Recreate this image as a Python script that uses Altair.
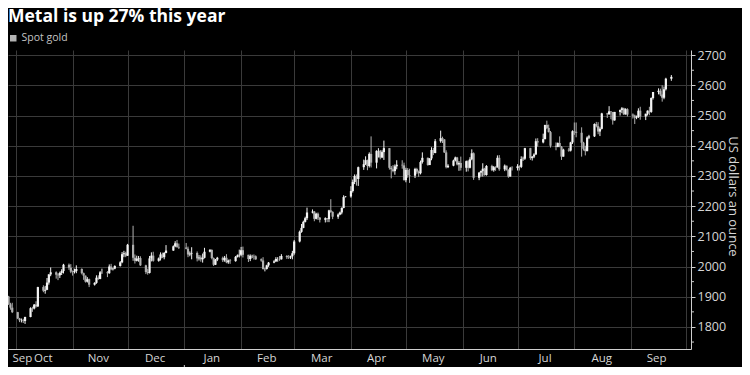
import altair as alt
import pandas as pd

TITLE = "Metal is up 27% this year"
SERIES = "Spot gold"
Y_TITLE = "US dollars an ounce"

FIRST_OPEN = 1925
HOLIDAYS = ["2023-12-25", "2024-01-01"]
FIRST_DAY = "2023-09-25"
LAST_DAY = "2024-09-23"

CLOSE = {
    "2023-09": [1915, 1901, 1875, 1864, 1849],
    "2023-10": [1828, 1822, 1822, 1820, 1833, 1862, 1861, 1874, 1868, 1932, 1920, 1923, 1947, 1974, 1981, 1973, 1971, 1979, 1985, 2006, 1996, 1983],
    "2023-11": [1982, 1985, 1992, 1978, 1970, 1950, 1958, 1940, 1946, 1963, 1959, 1981, 1981, 1978, 2000, 1991, 1993, 2002, 2014, 2041, 2044, 2036],
    "2023-12": [2072, 2029, 2019, 2026, 2028, 2004, 1982, 1979, 2027, 2036, 2019, 2027, 2040, 2031, 2045, 2053, 2067, 2077, 2065, 2063],
    "2024-01": [2059, 2040, 2043, 2045, 2027, 2030, 2024, 2029, 2049, 2055, 2028, 2006, 2023, 2029, 2021, 2029, 2014, 2020, 2018, 2032, 2037, 2039],
    "2024-02": [2054, 2039, 2025, 2035, 2035, 2034, 2024, 2020, 1992, 1992, 2004, 2013, 2017, 2025, 2025, 2024, 2035, 2031, 2030, 2034, 2044],
    "2024-03": [2083, 2115, 2128, 2148, 2160, 2179, 2182, 2158, 2175, 2162, 2155, 2160, 2157, 2186, 2181, 2165, 2172, 2179, 2194, 2230, 2232],
    "2024-04": [2250, 2280, 2300, 2290, 2329, 2339, 2352, 2333, 2373, 2344, 2383, 2383, 2361, 2379, 2392, 2327, 2322, 2316, 2332, 2337, 2335, 2286],
    "2024-05": [2320, 2303, 2301, 2323, 2314, 2309, 2346, 2360, 2336, 2358, 2386, 2376, 2415, 2425, 2421, 2378, 2329, 2334, 2351, 2361, 2338, 2343, 2327],
    "2024-06": [2349, 2327, 2355, 2375, 2294, 2311, 2316, 2324, 2303, 2333, 2319, 2329, 2328, 2360, 2322, 2334, 2320, 2298, 2327, 2326],
    "2024-07": [2332, 2330, 2356, 2357, 2392, 2359, 2364, 2371, 2415, 2411, 2422, 2469, 2459, 2445, 2400, 2396, 2409, 2397, 2364, 2387, 2384, 2411, 2448],
    "2024-08": [2446, 2443, 2410, 2390, 2382, 2427, 2431, 2472, 2465, 2447, 2456, 2507, 2504, 2514, 2512, 2484, 2512, 2518, 2524, 2504, 2521, 2503],
    "2024-09": [2500, 2493, 2495, 2516, 2497, 2506, 2516, 2512, 2558, 2578, 2582, 2570, 2559, 2587, 2622, 2628],
}
HIGH = {
    "2023-09": [1928, 1917, 1903, 1880, 1880],
    "2023-10": [1850, 1830, 1828, 1827, 1834, 1865, 1867, 1876, 1885, 1933, 1938, 1936, 1962, 1975, 1997, 1984, 1978, 1983, 1991, 2009, 2010, 2008],
    "2023-11": [1987, 1993, 2004, 1994, 1980, 1970, 1965, 1960, 1948, 1971, 1971, 1985, 1993, 1985, 2007, 2009, 1996, 2004, 2018, 2048, 2052, 2049],
    "2023-12": [2075, 2135, 2040, 2036, 2035, 2034, 2006, 1993, 2035, 2047, 2049, 2030, 2047, 2046, 2048, 2071, 2070, 2084, 2088, 2076],
    "2024-01": [2078, 2066, 2050, 2064, 2050, 2038, 2037, 2043, 2062, 2058, 2057, 2030, 2025, 2032, 2033, 2035, 2041, 2023, 2025, 2035, 2040, 2056],
    "2024-02": [2065, 2066, 2039, 2040, 2039, 2040, 2037, 2027, 2031, 1995, 2006, 2015, 2021, 2031, 2031, 2035, 2041, 2038, 2038, 2036, 2052],
    "2024-03": [2088, 2119, 2141, 2152, 2165, 2195, 2189, 2184, 2178, 2179, 2164, 2163, 2160, 2188, 2223, 2183, 2176, 2182, 2196, 2236, 2233],
    "2024-04": [2266, 2288, 2305, 2305, 2331, 2354, 2365, 2354, 2378, 2431, 2385, 2392, 2386, 2385, 2417, 2392, 2333, 2336, 2338, 2352, 2352, 2344],
    "2024-05": [2327, 2326, 2324, 2327, 2327, 2318, 2351, 2378, 2361, 2359, 2395, 2393, 2422, 2450, 2430, 2422, 2385, 2339, 2354, 2364, 2363, 2349, 2364],
    "2024-06": [2351, 2353, 2362, 2388, 2378, 2313, 2318, 2342, 2327, 2336, 2337, 2333, 2332, 2368, 2369, 2338, 2334, 2322, 2330, 2332],
    "2024-07": [2339, 2335, 2365, 2364, 2393, 2393, 2366, 2375, 2424, 2425, 2440, 2469, 2483, 2470, 2449, 2411, 2411, 2431, 2399, 2390, 2393, 2413, 2451],
    "2024-08": [2477, 2477, 2461, 2413, 2400, 2431, 2436, 2474, 2479, 2478, 2461, 2509, 2509, 2531, 2513, 2510, 2512, 2520, 2528, 2526, 2524, 2524],
    "2024-09": [2507, 2503, 2500, 2524, 2529, 2506, 2517, 2529, 2560, 2578, 2590, 2589, 2600, 2596, 2625, 2634],
}
LOW = {
    "2023-09": [1911, 1899, 1873, 1857, 1846],
    "2023-10": [1826, 1816, 1815, 1813, 1810, 1832, 1850, 1858, 1864, 1866, 1915, 1910, 1922, 1940, 1968, 1960, 1955, 1962, 1972, 1977, 1989, 1978],
    "2023-11": [1970, 1977, 1978, 1974, 1956, 1947, 1947, 1932, 1937, 1943, 1956, 1958, 1976, 1965, 1976, 1988, 1987, 1991, 2000, 2011, 2031, 2031],
    "2023-12": [2035, 2019, 2010, 2017, 2016, 2002, 1975, 1973, 1977, 2017, 2016, 2016, 2020, 2028, 2024, 2044, 2052, 2064, 2062, 2058],
    "2024-01": [2057, 2031, 2034, 2024, 2017, 2020, 2016, 2013, 2027, 2047, 2024, 2002, 2005, 2018, 2015, 2016, 2011, 2009, 2009, 2016, 2030, 2030],
    "2024-02": [2034, 2030, 2015, 2018, 2028, 2023, 2022, 2016, 1990, 1984, 1990, 1999, 2011, 2015, 2016, 2019, 2023, 2025, 2025, 2025, 2024],
    "2024-03": [2039, 2080, 2112, 2127, 2146, 2154, 2176, 2150, 2156, 2154, 2146, 2146, 2147, 2147, 2178, 2157, 2158, 2170, 2173, 2193, 2229],
    "2024-04": [2228, 2245, 2273, 2268, 2267, 2320, 2336, 2319, 2328, 2328, 2325, 2361, 2355, 2359, 2353, 2321, 2292, 2312, 2304, 2322, 2324, 2285],
    "2024-05": [2279, 2294, 2277, 2293, 2307, 2297, 2305, 2341, 2334, 2337, 2352, 2369, 2375, 2410, 2409, 2376, 2325, 2326, 2332, 2348, 2335, 2317, 2318],
    "2024-06": [2314, 2315, 2325, 2352, 2287, 2286, 2298, 2298, 2301, 2301, 2316, 2314, 2317, 2328, 2317, 2316, 2318, 2294, 2298, 2318],
    "2024-07": [2318, 2318, 2326, 2350, 2353, 2353, 2351, 2359, 2370, 2397, 2408, 2421, 2455, 2444, 2394, 2385, 2395, 2395, 2353, 2364, 2380, 2381, 2406],
    "2024-08": [2436, 2428, 2364, 2384, 2368, 2382, 2422, 2429, 2461, 2438, 2432, 2454, 2492, 2503, 2488, 2470, 2483, 2500, 2508, 2502, 2503, 2497],
    "2024-09": [2490, 2472, 2488, 2492, 2486, 2485, 2500, 2501, 2509, 2553, 2570, 2564, 2546, 2554, 2583, 2615],
}

MONTH_LABELS = ["Sep", "Oct", "Nov", "Dec", "Jan", "Feb", "Mar", "Apr", "May", "Jun", "Jul", "Aug", "Sep"]
MONTH_LABEL_DATES = ["2023-10-04T12:00:00Z", "2023-10-16", "2023-11-15", "2023-12-16", "2024-01-16", "2024-02-15",
                     "2024-03-16", "2024-04-15", "2024-05-16", "2024-06-15", "2024-07-16", "2024-08-16", "2024-09-15"]
YEAR_LABELS = ["2023", "2024"]
YEAR_LABEL_DATES = ["2023-11-12", "2024-05-17"]
YEAR_BREAK = ["2024-01-01"]
Y_TICKS = [1800, 1900, 2000, 2100, 2200, 2300, 2400, 2500, 2600, 2700]
Y_MINOR = [1750, 1850, 1950, 2050, 2150, 2250, 2350, 2450, 2550, 2650]

# ---- build table (open of each session = previous session's close) ----
days = [d for d in pd.bdate_range(FIRST_DAY, LAST_DAY).strftime("%Y-%m-%d") if d not in HOLIDAYS]
rows = []
prev = FIRST_OPEN
for m in CLOSE:
    mdays = [d for d in days if d.startswith(m)]
    assert len(mdays) == len(CLOSE[m]) == len(HIGH[m]) == len(LOW[m]), (m, len(mdays), len(CLOSE[m]), len(HIGH[m]), len(LOW[m]))
    for d, c, h, l in zip(mdays, CLOSE[m], HIGH[m], LOW[m]):
        rows.append({"date": d, "open": prev, "close": c, "high": h, "low": l})
        prev = c
df = pd.DataFrame(rows)

W, H = 683, 299
BG = "#000000"
GRID = "#3a3a3a"
AXIS = "#cfcfcf"
TXT = "#d6d6d6"
UP = "#f4f4f4"
DOWN = "#b0b0b0"
FONT = "Open Sans"

d0 = pd.Timestamp("2023-09-29 10:00", tz="UTC").value // 10**6
d1 = pd.Timestamp("2024-10-01 00:00", tz="UTC").value // 10**6
xscale = alt.Scale(type="utc", domain=[d0, d1])
yscale = alt.Scale(domain=[1727, 2717], zero=False, nice=False)

xaxis = alt.Axis(grid=True, gridColor=GRID, gridWidth=1, labels=False, ticks=False,
                 domainColor=AXIS, domainWidth=1, title=None,
                 tickCount={"interval": "month", "step": 1})
yaxis = alt.Axis(orient="right", values=Y_TICKS, format="d", labelOverlap=False,
                 grid=True, gridColor=GRID, gridWidth=1,
                 domainColor=AXIS, tickColor=AXIS, tickSize=4, labelPadding=2,
                 labelColor=TXT, labelFont=FONT, labelFontSize=12.5,
                 title=Y_TITLE, titleColor=TXT, titleFont=FONT, titleFontSize=13,
                 titleFontWeight="normal", titleAngle=90, titleBaseline="middle",
                 titleX=41, titleY=146)

candle_color = alt.condition("datum.close >= datum.open", alt.value(UP), alt.value(DOWN))


def X():
    return alt.X("date:T", scale=xscale, axis=xaxis)


def Y(field):
    return alt.Y(field, scale=yscale, axis=yaxis)


base = alt.Chart(df)
wick = base.mark_rule(strokeWidth=1, clip=True).encode(
    x=X(), y=Y("low:Q"), y2="high:Q", color=candle_color,
)
body = base.mark_bar(size=2.2, clip=True).encode(
    x=X(), y=Y("open:Q"), y2="close:Q", color=candle_color,
)

legend_df = pd.DataFrame({"series": [SERIES], "date": ["2023-01-01"], "v": [2000]})
legend_layer = alt.Chart(legend_df).mark_square(clip=True).encode(
    x=X(),
    y=Y("v:Q"),
    color=alt.Color("series:N", scale=alt.Scale(domain=[SERIES], range=["#ffffff"]),
                    legend=alt.Legend(title=None, orient="none", legendX=0, legendY=-17,
                                      symbolType="square", symbolSize=42, symbolStrokeWidth=0,
                                      labelFont=FONT, labelFontSize=10.5, labelColor="#c4c4c4",
                                      labelOffset=3, padding=0)),
)

minor = alt.Chart(pd.DataFrame({"v": Y_MINOR})).mark_rule(color=AXIS, strokeWidth=1).encode(
    y=Y("v:Q"), x=alt.value(W), x2=alt.value(W + 3)
)

month_lbl = alt.Chart(pd.DataFrame({"date": MONTH_LABEL_DATES, "t": MONTH_LABELS})).mark_text(
    font=FONT, fontSize=11.5, color=TXT, baseline="alphabetic", align="center"
).encode(x=X(), y=alt.value(H + 13), text="t:N")

year_lbl = alt.Chart(pd.DataFrame({"date": YEAR_LABEL_DATES, "t": YEAR_LABELS})).mark_text(
    font=FONT, fontSize=11.5, color=TXT, baseline="alphabetic", align="center"
).encode(x=X(), y=alt.value(H + 28), text="t:N")

year_break = alt.Chart(pd.DataFrame({"date": YEAR_BREAK})).mark_rule(color=AXIS, strokeWidth=1).encode(
    x=X(), y=alt.value(H + 16), y2=alt.value(H + 40)
)

chart = alt.layer(wick, body, legend_layer, minor, month_lbl, year_lbl, year_break).properties(
    width=W, height=H,
    title=alt.TitleParams(TITLE, anchor="start", font=FONT, fontSize=17.5, fontWeight="bold",
                          color="#ffffff", offset=8, frame="group"),
    autosize=alt.AutoSizeParams(type="none"),
    padding={"left": 0, "top": 42, "right": 51, "bottom": 18},
).configure(background=BG).configure_view(stroke=None)

chart.save("out.html", embed_options={"renderer": "svg", "actions": False})
